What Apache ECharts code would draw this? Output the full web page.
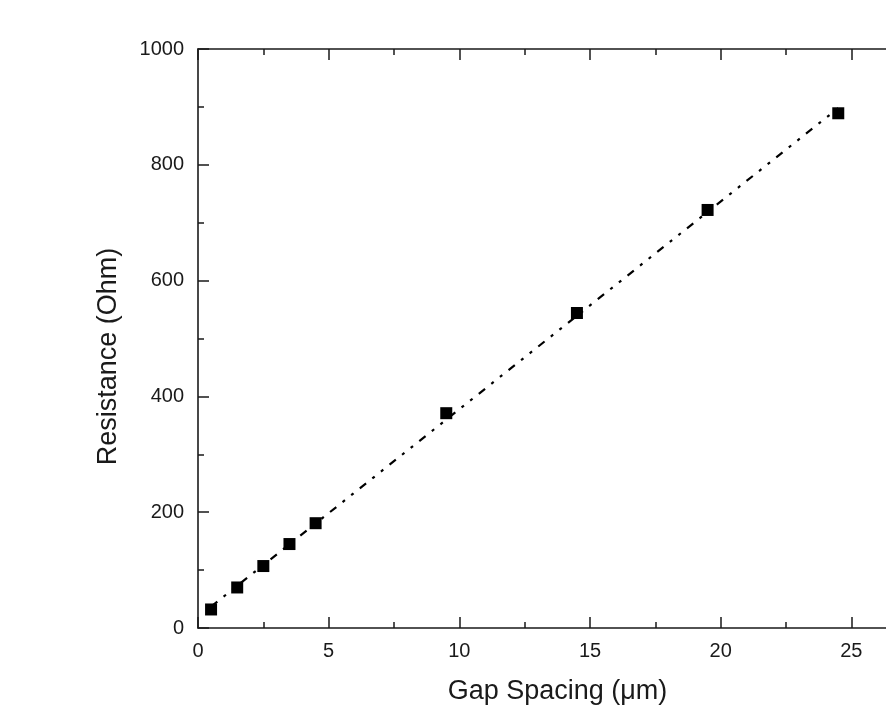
<!DOCTYPE html>
<html>
<head>
<meta charset="utf-8">
<script src="https://cdn.jsdelivr.net/npm/echarts@6/dist/echarts.min.js"></script>
<style>
  html, body { margin: 0; padding: 0; background: #fff; }
  #chart { width: 886px; height: 706px; }
</style>
</head>
<body>
<div id="chart"></div>
<script>
// Measured resistance versus electrode gap spacing
const gapSpacing = [0.5, 1.5, 2.5, 3.5, 4.5, 9.5, 14.5, 19.5, 24.5];
const resistance = [32, 70, 107, 145, 181, 371, 544, 722, 889];

// Linear fit drawn as a dash-dot-dot line between its end points
const fitX = [0.5, 24.5];
const fitY = [37, 898];

const font = '"Liberation Sans", Arial, Helvetica, sans-serif';
const ink = '#1a1a1a';

const chart = echarts.init(document.getElementById('chart'), null, { renderer: 'canvas' });

const axisCommon = {
  type: 'value',
  axisLine: { show: true, onZero: false, lineStyle: { color: ink, width: 1.6 } },
  axisTick: { show: true, inside: true, length: 11, lineStyle: { color: ink, width: 1.5 } },
  minorTick: { show: true, splitNumber: 2, length: 6, lineStyle: { color: ink, width: 1.5 } },
  splitLine: { show: false },
  minorSplitLine: { show: false }
};

chart.setOption({
  backgroundColor: '#ffffff',
  animation: false,
  grid: {
    left: 198, top: 49, width: 784, height: 579,
    containLabel: false,
    outerBoundsMode: 'none'
  },
  xAxis: [
    Object.assign({}, axisCommon, {
      position: 'bottom',
      min: 0, max: 30, interval: 5,
      name: 'Gap Spacing (\u03bcm)',
      nameLocation: 'middle',
      nameGap: 50,
      nameTextStyle: { fontFamily: font, fontSize: 27, color: ink, padding: [0, 65, 0, 0] },
      axisLabel: { margin: 13, fontFamily: font, fontSize: 20, color: ink }
    }),
    Object.assign({}, axisCommon, {
      position: 'top',
      min: 0, max: 30, interval: 5,
      axisLabel: { show: false }
    })
  ],
  yAxis: [
    Object.assign({}, axisCommon, {
      position: 'left',
      min: 0, max: 1000, interval: 200,
      name: 'Resistance (Ohm)',
      nameLocation: 'middle',
      nameGap: 76,
      nameTextStyle: { fontFamily: font, fontSize: 27, color: ink, padding: [0, 36, 0, 0] },
      axisLabel: {
        margin: 14, fontFamily: font, fontSize: 20, color: ink,
        formatter: (v) => String(v)
      }
    })
  ],
  series: [
    {
      name: 'fit',
      type: 'line',
      data: fitX.map((x, i) => [x, fitY[i]]),
      showSymbol: false,
      symbol: 'none',
      lineStyle: { color: '#000', width: 2.2, type: [8, 8, 3, 8, 3, 8] },
      silent: true,
      z: 2
    },
    {
      name: 'Resistance',
      type: 'scatter',
      data: gapSpacing.map((x, i) => [x, resistance[i]]),
      symbol: 'rect',
      symbolSize: 12,
      itemStyle: { color: '#000', opacity: 1 },
      z: 3
    }
  ]
});
</script>
</body>
</html>
